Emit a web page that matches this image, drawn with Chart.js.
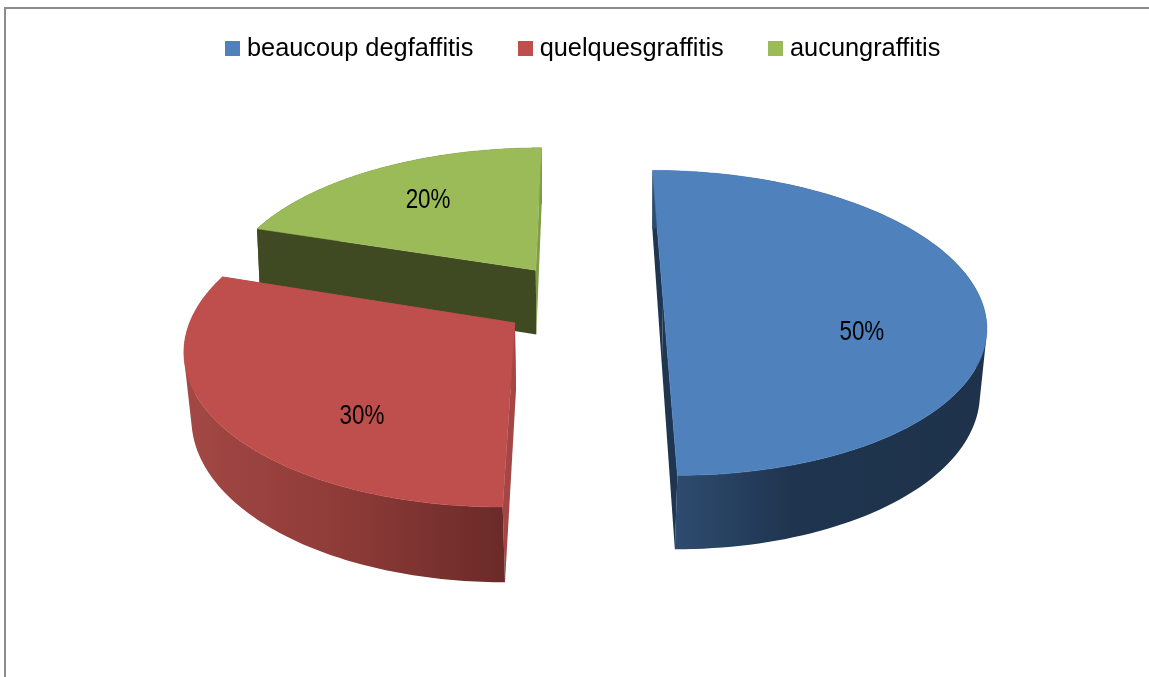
<!DOCTYPE html>
<html><head><meta charset="utf-8">
<script src="https://cdn.jsdelivr.net/npm/chart.js@4"></script>
<style>html,body{margin:0;padding:0;background:#fff;overflow:hidden}
#wrap{position:absolute;left:0;top:0;width:1149px;height:677px}
canvas{display:block}</style></head><body>
<div id="wrap"><canvas id="c" width="1149" height="677"></canvas></div>
<script>
const categories = ["beaucoup degfaffitis", "quelquesgraffitis", "aucungraffitis"];
const values = [50, 30, 20];
const colours = ["#4f81bd", "#be4f4c", "#9bbb59"];
const valueLabels = ["50%", "30%", "20%"];

const VIEW = {cx: 582, cy: 300, rx: 318, ry: 149, p: 0.15};
const WALLS = [
  {start: "#1f3650", end: "#1f3650", x0: 183, x1: 987, outer: [[0.61, "#2e4c70"], [0.76, "#1f344e"], [1, "#1e324b"]]},
  {start: "#a34644", end: "#a34644", x0: 183, x1: 505, outer: [[0, "#a34845"], [0.5, "#8e3b38"], [1, "#6a2a28"]]},
  {start: "#3f4a22", end: "#7f9c49", x0: 183, x1: 987, outer: [[0, "#3f4a22"], [1, "#3f4a22"]]}
];
const LABEL = [{r: 0.625, lift: 33}, {r: 0.54, lift: 42}, {r: 0.66, lift: 0}];

function projTop(u, v) {
  const w = 1 - VIEW.p * v;
  return {x: VIEW.cx + VIEW.rx * u / w, y: VIEW.cy + VIEW.ry * v / w};
}
function projBase(u, v) {
  const t = projTop(u, v);
  return {x: VIEW.cx + (t.x - VIEW.cx) * (0.985 - 0.012 * v), y: t.y + 66 + 8 * v};
}
function trace(ctx, pts) {
  pts.forEach((q, i) => i ? ctx.lineTo(q.x, q.y) : ctx.moveTo(q.x, q.y));
  ctx.closePath();
}
function poly(ctx, pts, fill) {
  ctx.beginPath();
  trace(ctx, pts);
  ctx.fillStyle = fill;
  ctx.fill();
}
function area(p) {
  let s = 0;
  p.forEach((q, i) => { const r = p[(i + 1) % p.length]; s += q.x * r.y - r.x * q.y; });
  return s;
}

const pie3d = {
  id: "pie3d",
  beforeDatasetDraw(chart, args) {
    const ctx = chart.ctx;
    const arcs = chart.getDatasetMeta(args.index).data;
    [2, 1, 0].forEach(i => {
      const el = arcs[i];
      const R = el.outerRadius, a0 = el.startAngle, a1 = el.endAngle;
      const mid = (a0 + a1) / 2, e = el.options.offset / R;
      const ax = Math.cos(mid) * e, ay = Math.sin(mid) * e;
      const n = 120, rim = [];
      for (let k = 0; k <= n; k++) {
        const a = a0 + (a1 - a0) * k / n;
        rim.push([ax + Math.cos(a), ay + Math.sin(a)]);
      }
      const T = rim.map(q => projTop(q[0], q[1])), B = rim.map(q => projBase(q[0], q[1]));
      const Ta = projTop(ax, ay), Ba = projBase(ax, ay);
      const W = WALLS[i];
      poly(ctx, [Ta, T[0], B[0], Ba], W.start);
      const g = ctx.createLinearGradient(W.x0, 0, W.x1, 0);
      W.outer.forEach(s => g.addColorStop(s[0], s[1]));
      ctx.beginPath();
      for (let k = 0; k < n; k++) {
        let quad = [T[k], T[k + 1], B[k + 1], B[k]];
        if (area(quad) < 0) quad = quad.reverse();
        trace(ctx, quad);
      }
      ctx.fillStyle = g;
      ctx.fill("nonzero");
      poly(ctx, [Ta, T[n], B[n], Ba], W.end);
      poly(ctx, [Ta].concat(T), el.options.backgroundColor);
      ctx.strokeStyle = el.options.backgroundColor;
      ctx.lineWidth = 0.5;
      ctx.stroke();
    });
    arcs.forEach((el, i) => {
      const mid = (el.startAngle + el.endAngle) / 2, e = el.options.offset / el.outerRadius;
      const L = LABEL[i];
      const q = projTop(Math.cos(mid) * (e + L.r), Math.sin(mid) * (e + L.r));
      ctx.save();
      ctx.translate(q.x, q.y + L.lift);
      ctx.scale(0.83, 1);
      ctx.font = "27px 'Liberation Sans'";
      ctx.fillStyle = "#000";
      ctx.textAlign = "center";
      ctx.textBaseline = "middle";
      ctx.fillText(valueLabels[i], 0, 0);
      ctx.restore();
    });
    return false;
  },
  beforeDraw(chart) {
    const ctx = chart.ctx;
    ctx.save();
    ctx.fillStyle = "#fff";
    ctx.fillRect(0, 0, chart.width, chart.height);
    ctx.fillStyle = "#8c8c8c";
    ctx.fillRect(4, 7, chart.width - 4, 2);
    ctx.fillRect(4, 7, 2, chart.height - 7);
    ctx.restore();
  }
};

function swatch(col) {
  const s = document.createElement("canvas");
  s.width = 15; s.height = 15;
  const x = s.getContext("2d");
  x.fillStyle = col; x.fillRect(0, 0, 15, 15);
  return s;
}

new Chart(document.getElementById("c"), {
  type: "pie",
  data: {labels: categories, datasets: [{data: values, backgroundColor: colours, borderWidth: 0,
    offset: ctx => ctx.chart.chartArea.height * 0.1131}]},
  plugins: [pie3d],
  options: {
    responsive: false,
    animation: false,
    rotation: 0,
    layout: {padding: {top: -14, left: 22}},
    plugins: {
      tooltip: {enabled: false},
      legend: {
        position: "top",
        labels: {
          color: "#000",
          font: {family: "'Liberation Sans'", size: 25.35},
          padding: 50,
          usePointStyle: true,
          pointStyleWidth: 3.6,
          boxHeight: 15,
          generateLabels() {
            return categories.map((t, i) => ({text: t, pointStyle: swatch(colours[i]), fillStyle: colours[i], strokeStyle: colours[i], lineWidth: 0, index: i, hidden: false}));
          }
        }
      }
    }
  }
});
</script></body></html>
